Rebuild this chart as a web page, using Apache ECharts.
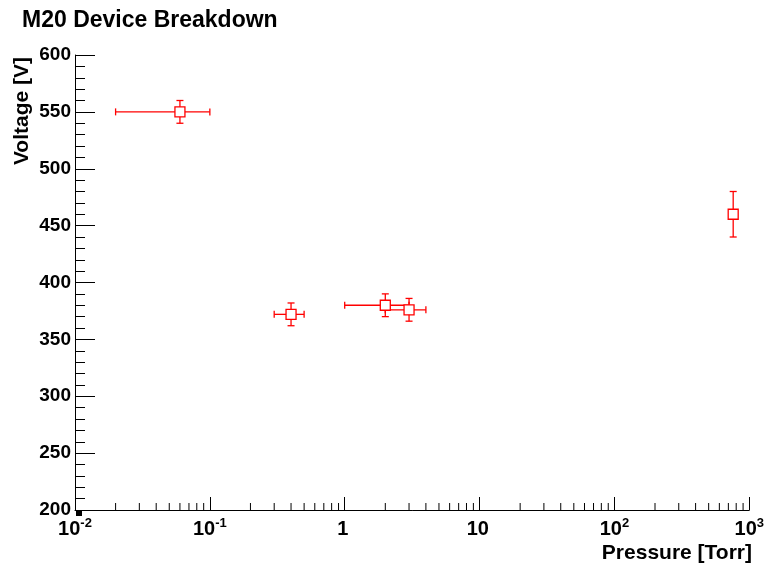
<!DOCTYPE html>
<html>
<head>
<meta charset="utf-8">
<title>M20 Device Breakdown</title>
<script src="https://cdn.jsdelivr.net/npm/echarts@6/dist/echarts.min.js"></script>
<style>
  html, body { margin: 0; padding: 0; background: #fff; }
  #chart { width: 767px; height: 569px; }
</style>
</head>
<body>
<div id="chart"></div>
<script>
// Breakdown measurements: pressure (Torr) with symmetric errors, voltage (V) with errors
const pressure    = [0.06, 0.4, 2, 3, 760];
const pressureErr = [0.04, 0.1, 1, 1, 0];
const voltage     = [550, 372, 380, 376, 460];
const voltageErr  = [10, 10, 10, 10, 20];

// Axis ranges
const xRange = [0.01, 1000];
const yRange = [200, 600];
const yStep = 50;

// Log-axis minor ticks: 2..9 in every decade
const decades = [0.01, 0.1, 1, 10, 100];
const minorMultipliers = [2, 3, 4, 5, 6, 7, 8, 9];
const xMinorTicks = [];
decades.forEach(d => minorMultipliers.forEach(m => xMinorTicks.push([d * m, yRange[0]])));

const FONT = '"Liberation Sans", Arial, Helvetica, sans-serif';
const RED = '#ff0000';

const points = pressure.map((p, i) => [p, voltage[i], pressureErr[i], voltageErr[i]]);

const chart = echarts.init(document.getElementById('chart'), null, { renderer: 'canvas' });

chart.setOption({
  backgroundColor: '#ffffff',
  animation: false,
  title: {
    text: 'M20 Device Breakdown',
    left: 17,
    top: 4,
    textStyle: { fontFamily: FONT, fontSize: 23, fontWeight: 'bold', color: '#000' }
  },
  grid: { left: 75, right: 15, top: 55, bottom: 59, containLabel: false },
  xAxis: {
    type: 'log',
    logBase: 10,
    min: xRange[0],
    max: xRange[1],
    splitLine: { show: false },
    axisLine: { show: true, onZero: false, lineStyle: { color: '#000', width: 1 } },
    axisTick: { show: true, inside: true, length: 13, lineStyle: { color: '#000', width: 1 } },
    axisLabel: {
      margin: 9,
      color: '#000',
      fontFamily: FONT,
      formatter: function (v) {
        const e = Math.round(Math.log10(v));
        if (e === 0) return '{b|1}{s| }';
        if (e === 1) return '{b|10}{s| }';
        return '{b|10}{s|' + e + '}';
      },
      rich: {
        b: { fontFamily: FONT, fontSize: 20, fontWeight: 'bold', color: '#000', lineHeight: 20, verticalAlign: 'bottom' },
        s: { fontFamily: FONT, fontSize: 13, fontWeight: 'bold', color: '#000', lineHeight: 13, verticalAlign: 'bottom', padding: [0, 0, 9, 0] }
      }
    }
  },
  yAxis: {
    type: 'value',
    min: yRange[0],
    max: yRange[1],
    interval: yStep,
    splitLine: { show: false },
    axisLine: { show: true, onZero: false, lineStyle: { color: '#000', width: 1 } },
    axisTick: { show: true, inside: true, length: 20, lineStyle: { color: '#000', width: 1 } },
    minorTick: { show: true, splitNumber: 5, length: 10, lineStyle: { color: '#000', width: 1 } },
    minorSplitLine: { show: false },
    axisLabel: {
      margin: 4,
      color: '#000',
      fontFamily: FONT,
      fontSize: 19,
      fontWeight: 'bold'
    }
  },
  graphic: [
    {
      type: 'text',
      right: 15,
      top: 543,
      style: { text: 'Pressure [Torr]', font: 'bold 21px ' + FONT, fill: '#000' }
    },
    {
      type: 'text',
      x: 22,
      y: 57,
      rotation: Math.PI / 2,
      style: {
        text: 'Voltage [V]',
        font: 'bold 21px ' + FONT,
        fill: '#000',
        align: 'right',
        verticalAlign: 'middle',
        textAlign: 'right',
        textVerticalAlign: 'middle'
      }
    },
    {
      type: 'rect',
      shape: { x: 76, y: 510, width: 6, height: 6 },
      style: { fill: '#000' }
    }
  ],
  series: [
    {
      // minor ticks along the logarithmic pressure axis
      type: 'custom',
      silent: true,
      clip: false,
      z: 1,
      data: xMinorTicks,
      encode: { x: 0, y: 1 },
      renderItem: function (params, api) {
        const p = api.coord([api.value(0), api.value(1)]);
        return {
          type: 'line',
          shape: { x1: p[0], y1: p[1], x2: p[0], y2: p[1] - 7 },
          style: { stroke: '#000', lineWidth: 1 }
        };
      }
    },
    {
      // error bars with end caps
      type: 'custom',
      silent: true,
      clip: false,
      z: 2,
      data: points,
      encode: { x: 0, y: 1 },
      renderItem: function (params, api) {
        const x = api.value(0), y = api.value(1), ex = api.value(2), ey = api.value(3);
        const st = { stroke: RED, lineWidth: 1.3 };
        const cap = 3.5;
        const kids = [];
        if (ex > 0) {
          const l = api.coord([x - ex, y]);
          const r = api.coord([x + ex, y]);
          kids.push({ type: 'line', shape: { x1: l[0], y1: l[1], x2: r[0], y2: r[1] }, style: st });
          kids.push({ type: 'line', shape: { x1: l[0], y1: l[1] - cap, x2: l[0], y2: l[1] + cap }, style: st });
          kids.push({ type: 'line', shape: { x1: r[0], y1: r[1] - cap, x2: r[0], y2: r[1] + cap }, style: st });
        }
        if (ey > 0) {
          const t = api.coord([x, y + ey]);
          const b = api.coord([x, y - ey]);
          kids.push({ type: 'line', shape: { x1: t[0], y1: t[1], x2: b[0], y2: b[1] }, style: st });
          kids.push({ type: 'line', shape: { x1: t[0] - cap, y1: t[1], x2: t[0] + cap, y2: t[1] }, style: st });
          kids.push({ type: 'line', shape: { x1: b[0] - cap, y1: b[1], x2: b[0] + cap, y2: b[1] }, style: st });
        }
        return { type: 'group', children: kids };
      }
    },
    {
      // open square markers
      type: 'scatter',
      z: 3,
      symbol: 'rect',
      symbolSize: 10,
      data: pressure.map((p, i) => [p, voltage[i]]),
      itemStyle: { color: '#ffffff', borderColor: RED, borderWidth: 1.3, opacity: 1 },
      emphasis: { disabled: true }
    }
  ]
});
</script>
</body>
</html>
